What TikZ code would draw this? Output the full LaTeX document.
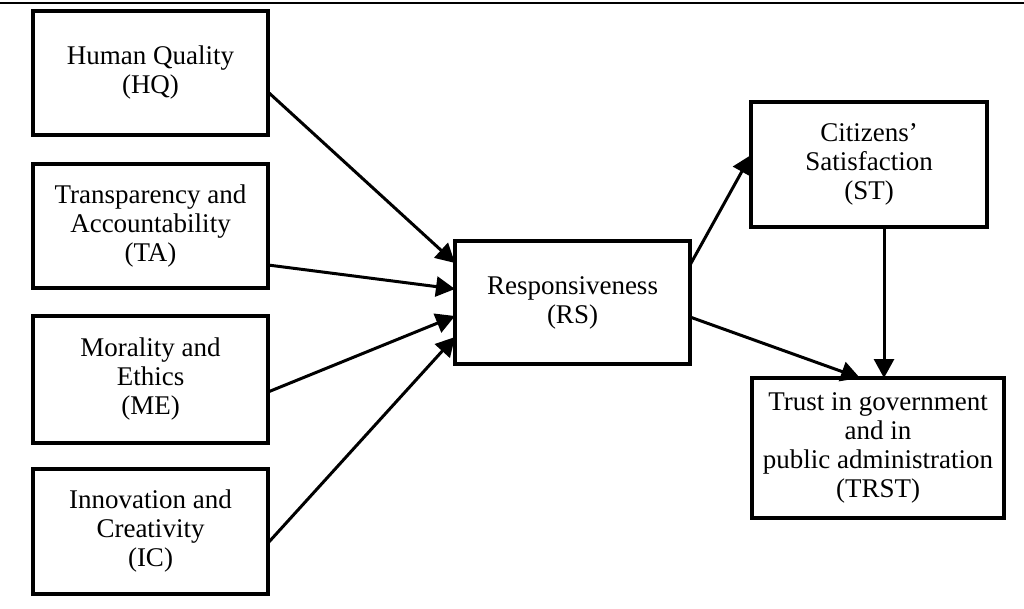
\documentclass[tikz,border=0pt]{standalone}
\usepackage{fontspec}
\setmainfont{Liberation Serif}
\usetikzlibrary{arrows.meta,calc}
\begin{document}
\begin{tikzpicture}[x=1pt,y=-1pt,
  box/.style={draw,line width=3.4pt,outer sep=0pt,inner sep=0pt,align=center,
    font=\fontsize{27}{29}\selectfont},
  arr/.style={line width=3pt,-{Triangle[length=19pt,width=20pt]}}]
\useasboundingbox (0,0) rectangle (1024,609);
\draw[line width=1.5pt] (0,3) -- (1024,3);
\node[box,minimum width=235pt,minimum height=124pt] (HQ) at (150.5,73) {Human Quality\\(HQ)};
\node[box,minimum width=235pt,minimum height=124pt] (TA) at (150.5,226) {Transparency and\\Accountability\\(TA)};
\node[box,minimum width=235pt,minimum height=127pt] (ME) at (150.5,379.5) {Morality and\\Ethics\\(ME)};
\node[box,minimum width=235pt,minimum height=125pt] (IC) at (150.5,531.5) {Innovation and\\Creativity\\(IC)};
\node[box,minimum width=235pt,minimum height=123pt] (RS) at (572.5,302.5) {Responsiveness\\(RS)};
\node[box,minimum width=236pt,minimum height=125pt] (ST) at (869,164.5) {Citizens'\\Satisfaction\\(ST)};
\node[box,minimum width=252pt,minimum height=140pt] (TRST) at (878,448) {Trust in government\\and in\\public administration\\(TRST)};
\draw[arr] ($(HQ.east)+(0,19)$) -- ($(RS.west)+(0,-39.5)$);
\draw[arr] ($(TA.east)+(0,39)$) -- ($(RS.west)+(0,-13.5)$);
\draw[arr] ($(ME.east)+(0,12.5)$) -- ($(RS.west)+(0,13.5)$);
\draw[arr] ($(IC.east)+(0,11.5)$) -- ($(RS.west)+(0,34.5)$);
\draw[arr] ($(RS.east)+(0,-37.5)$) -- ($(ST.west)+(0,-9.5)$);
\draw[arr] ($(RS.east)+(0,14.5)$) -- ($(TRST.north)+(-18,0)$);
\coordinate (s1) at ($(ST.south)+(15,0)$);
\draw[arr] (s1) -- (s1 |- TRST.north);
\end{tikzpicture}
\end{document}
